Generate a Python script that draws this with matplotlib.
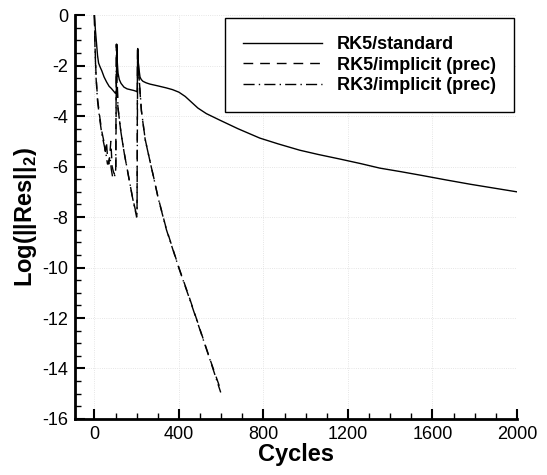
import matplotlib
matplotlib.use("Agg")
import matplotlib.pyplot as plt
from matplotlib.ticker import MultipleLocator

plt.rcParams['font.family'] = ['Liberation Sans', 'DejaVu Sans']
plt.rcParams['axes.unicode_minus'] = False
plt.rcParams['mathtext.fontset'] = 'custom'
plt.rcParams['mathtext.bf'] = 'Liberation Sans:bold'
plt.rcParams['mathtext.rm'] = 'Liberation Sans'

# RK5/standard
std_x = [0, 5, 10, 15, 20, 27, 35, 46, 58, 70, 80, 90, 100, 104, 106, 108, 112, 118, 126, 140,
         155, 170, 185, 200, 203, 205, 208, 212, 216, 222, 230, 245, 263, 300, 340, 370, 400,
         430, 460, 490, 530, 594, 680, 783, 870, 972, 1060, 1162, 1260, 1351, 1450, 1550, 1666,
         1780, 1890, 2000]
std_y = [0, -0.6, -1.1, -1.6, -1.9, -2.05, -2.2, -2.45, -2.65, -2.82, -2.9, -3.0, -3.1, -3.0,
         -1.15, -1.8, -2.3, -2.55, -2.7, -2.85, -2.92, -2.95, -2.98, -3.02, -3.0, -1.32, -1.9,
         -2.2, -2.45, -2.55, -2.62, -2.68, -2.73, -2.8, -2.88, -2.95, -3.05, -3.22, -3.45,
         -3.68, -3.9, -4.16, -4.5, -4.87, -5.1, -5.35, -5.52, -5.7, -5.88, -6.06, -6.2, -6.35,
         -6.53, -6.7, -6.85, -7.0]

# RK5/implicit (prec)
rk5i_x = [0, 3, 8, 15, 25, 35, 45, 52, 57, 62, 68, 73, 78, 84, 90, 95, 100, 102, 104, 107,
          111, 125, 140, 159, 180, 199, 202, 204, 210, 222, 240, 262, 280, 301, 340, 400, 450,
          500, 550, 600]
rk5i_y = [0, -1.2, -2.4, -3.3, -4.0, -4.6, -5.0, -5.4, -5.0, -5.6, -5.9, -5.5, -5.0, -6.0,
          -6.2, -6.3, -6.2, -6.0, -1.15, -2.5, -3.6, -4.6, -5.4, -6.27, -7.2, -7.9, -7.7,
          -1.32, -2.3, -3.76, -4.9, -5.74, -6.4, -7.2, -8.45, -10.0, -11.2, -12.45, -13.7, -14.9]

# RK3/implicit (prec)
rk3i_x = [0, 3, 8, 15, 25, 35, 45, 55, 62, 68, 74, 80, 86, 93, 98, 101, 103, 105, 108, 112,
          126, 141, 160, 181, 200, 202, 205, 211, 223, 241, 263, 281, 302, 341, 401, 451, 501,
          551, 598]
rk3i_y = [0, -1.3, -2.5, -3.4, -4.1, -4.7, -5.1, -5.5, -5.9, -5.8, -5.6, -6.1, -6.4, -6.45,
          -6.3, -6.1, -3.0, -1.2, -2.6, -3.7, -4.65, -5.45, -6.3, -7.25, -8.0, -7.8, -1.35,
          -2.4, -3.8, -4.95, -5.78, -6.45, -7.25, -8.5, -10.05, -11.25, -12.5, -13.75, -14.95]

x_ticks = [0, 400, 800, 1200, 1600, 2000]
y_ticks = [0, -2, -4, -6, -8, -10, -12, -14, -16]

fig = plt.figure(figsize=(5.47, 4.75), dpi=100)
ax = fig.add_axes([0.137, 0.118, 0.808, 0.850])

ax.plot(std_x, std_y, color='black', lw=1.0, ls='-', label='RK5/standard')
ax.plot(rk5i_x, rk5i_y, color='black', lw=1.0, ls=(0, (7, 5)), label='RK5/implicit (prec)')
ax.plot(rk3i_x, rk3i_y, color='black', lw=1.0, ls=(0, (8, 3, 1, 3)), label='RK3/implicit (prec)')

ax.set_xlim(-92, 2000)
ax.set_ylim(-16, 0)
ax.set_xticks(x_ticks)
ax.set_yticks(y_ticks)
ax.xaxis.set_minor_locator(MultipleLocator(100))
ax.yaxis.set_minor_locator(MultipleLocator(0.5))
ax.tick_params(which='major', direction='in', length=7, width=1.5, labelsize=13, pad=5)
ax.tick_params(which='minor', direction='in', length=4, width=1.0)
ax.grid(True, which='major', color='#dddddd', ls=':', lw=0.6)

for s in ['top', 'right']:
    ax.spines[s].set_visible(False)
for s in ['left', 'bottom']:
    ax.spines[s].set_linewidth(2)

ax.set_xlabel('Cycles', fontsize=17, fontweight='bold', labelpad=0)
ax.set_ylabel(r'Log(||Res||$_{\mathbf{2}}$)', fontsize=17, fontweight='bold', labelpad=2)

leg = ax.legend(loc='upper right', bbox_to_anchor=(0.993, 0.993), fancybox=False,
                edgecolor='black', framealpha=1, handlelength=4.4, handletextpad=0.8,
                borderpad=1.0, labelspacing=0.2, borderaxespad=0,
                prop={'weight': 'bold', 'size': 13})
leg.get_frame().set_linewidth(1.0)

fig.savefig('out.png', dpi=100)
